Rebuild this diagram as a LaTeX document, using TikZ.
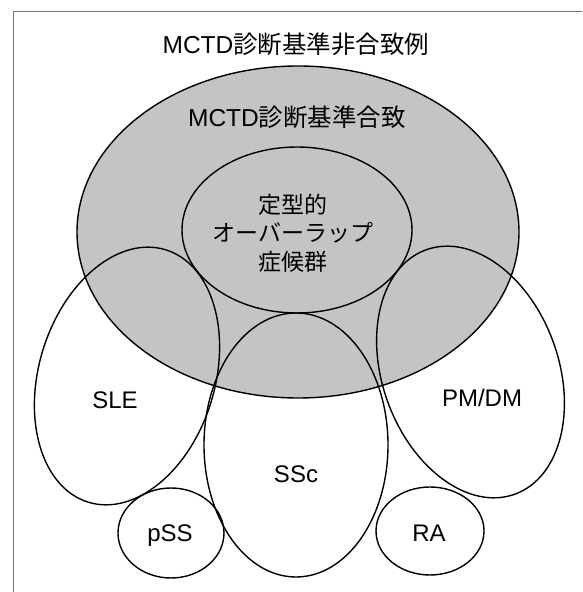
\documentclass[tikz,border=0pt]{standalone}
\usepackage{fontspec}
\setmainfont{Liberation Sans}
\newfontfamily\cjk{Noto Sans CJK JP}
\definecolor{setgray}{gray}{0.77}
\begin{document}
\begin{tikzpicture}[x=1pt,y=1pt,
  lab/.style={anchor=base, inner sep=0pt, font=\fontsize{24}{28}\selectfont},
  jlab/.style={anchor=base, inner sep=0pt, font=\fontsize{23}{28}\selectfont\cjk},
  tlab/.style={anchor=base, inner sep=0pt, font=\fontsize{24.5}{28}\selectfont},
  setline/.style={draw=black, line width=1.4pt},
  frameline/.style={draw=black!55, line width=1pt}]
\useasboundingbox (0,0) rectangle (582,592);
% frame (only top and left sides visible)
\coordinate (fbl) at (13,0);
\coordinate (ftl) at (13,580.5);
\coordinate (ftr) at (582,580.5);
\draw[frameline] (fbl) -- (ftl) -- (ftr);
% centres
\coordinate (cmctd) at (298,360);
\coordinate (cost) at (297,362);
\coordinate (csle) at (127,216);
\coordinate (cpm) at (470.5,220);
\coordinate (cssc) at (296,147);
\coordinate (cpss) at (171,59);
\coordinate (cra) at (430,61);
% filled MCTD set
\fill[setgray] (cmctd) ellipse [x radius=221, y radius=166];
% outlines
\draw[setline] (cmctd) ellipse [x radius=221, y radius=166];
\draw[setline] (cost) ellipse [x radius=115, y radius=83];
\draw[setline, rotate around={-17:(csle)}] (csle) ellipse [x radius=88, y radius=132];
\draw[setline, rotate around={20:(cpm)}] (cpm) ellipse [x radius=88, y radius=130];
\draw[setline] (cssc) ellipse [x radius=92, y radius=132];
\draw[setline] (cpss) ellipse [x radius=53, y radius=45];
\draw[setline] (cra) ellipse [x radius=54, y radius=44];
% labels
\node[tlab] (title) at (296,538) {MCTD{\cjk 診断基準非合致例}};
\node[tlab] (mctd) at (297,465) {MCTD{\cjk 診断基準合致}};
\node[jlab] (ost1) at (293,378.3) {定型的};
\node[jlab] (ost2) at (293,350.3) {オーバーラップ};
\node[jlab] (ost3) at (293,321) {症候群};
\node[lab] (sle) at (115,183.5) {SLE};
\node[lab] (ssc) at (296,109) {SSc};
\node[lab] (pm) at (482,185) {PM/DM};
\node[lab] (pss) at (170,50) {pSS};
\node[lab] (ra) at (429,50.5) {RA};
\end{tikzpicture}
\end{document}
